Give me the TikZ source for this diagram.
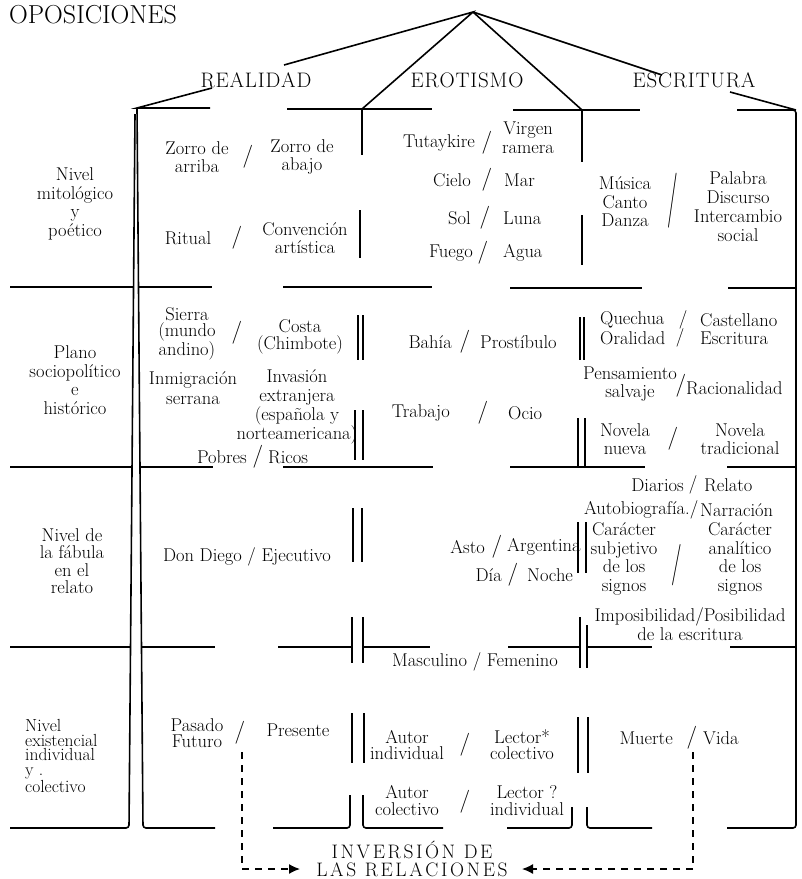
\documentclass[tikz,border=0pt]{standalone}
\usepackage{fontspec}
\usepackage{graphicx}
\usetikzlibrary{arrows.meta}
\newcommand\hsp{\kern0.8pt}
\newcommand\isp{\kern2.6pt}
\begin{document}
\begin{tikzpicture}[x=1pt,y=-1pt,
  ln/.style={line width=1.6pt},
  dl/.style={line width=1.3pt},
  t/.style={font=\fontsize{18.5}{18.5}\selectfont, align=center, inner sep=0pt},
  sl/.style={font=\fontsize{23}{23}\selectfont, inner sep=0pt},
  hd/.style={font=\fontsize{21}{21}\selectfont, inner sep=0pt},
  dsh/.style={line width=1.4pt, dash pattern=on 7pt off 6pt},
  tip/.style={-{Latex[length=11pt,width=10pt]}}
]
\useasboundingbox (0,0) rectangle (802,879);

% ---------- title and tree
\node[font=\fontsize{26}{26}\selectfont, anchor=west, inner sep=0pt] (title) at (9,15) {OPOSICIONES};
\node[hd] (real) at (256,80) {R\hsp E\hsp A\hsp L\hsp I\hsp D\hsp A\hsp D};
\node[hd] (erot) at (467,80) {E\hsp R\hsp O\hsp T\hsp I\hsp S\hsp M\hsp O};
\node[hd] (escr) at (694,80) {E\hsp S\hsp C\hsp R\hsp I\hsp T\hsp U\hsp R\hsp A};

\coordinate (apex) at (473,12);
\coordinate (a1) at (284,65);
\coordinate (j1) at (362,109);
\coordinate (j2) at (582,110);
\coordinate (a4) at (662,75);
\draw[ln] (a1) -- (apex) -- (j1);
\draw[ln] (apex) -- (j2);
\draw[ln] (apex) -- (a4);

% ---------- frame
\draw[ln] (212,88) -- (137,108) -- (210,108);
\draw[ln] (287,109) -- (432,109);
\draw[ln] (513,110) -- (640,110);
\draw[ln] (730,92) -- (796,110);
\draw[ln,rounded corners=3pt] (737,110) -- (796,110) -- (796,828) -- (727,828);
\draw[ln,rounded corners=3pt] (137,108) -- (143,828) -- (215,828);
\draw[ln,rounded corners=3pt] (135,114) -- (129,828) -- (10,828);

% row lines
\draw[ln] (10,287) -- (133.5,287);
\draw[ln] (138.5,287) -- (212,287);
\draw[ln] (283,287) -- (432,287);
\draw[ln] (510,288) -- (642,288);
\draw[ln] (728,288) -- (796,288);

\draw[ln] (10,467) -- (132,467);
\draw[ln] (140,467) -- (213,467);
\draw[ln] (283,467) -- (433,467);
\draw[ln] (510,467) -- (645,467);
\draw[ln] (727,467) -- (796,467);

\draw[ln] (10,647) -- (130.5,647);
\draw[ln] (141.5,647) -- (215,647);
\draw[ln] (278,647) -- (352,647);
\draw[ln] (363,647) -- (430,647);
\draw[ln] (508,647) -- (580,647);
\draw[ln] (587,647) -- (652,647);
\draw[ln] (730,647) -- (796,647);

\draw[ln,rounded corners=3pt] (350,795) -- (350,828) -- (273,828);
\draw[ln,rounded corners=3pt] (363,795) -- (363,828) -- (443,828);
\draw[ln,rounded corners=3pt] (572,807) -- (572,828) -- (507,828);
\draw[ln,rounded corners=3pt] (587,807) -- (587,828) -- (652,828);

% column boundary 1
\draw[ln] (j1) -- (362,155);
\draw[ln] (360,210) -- (360,258);
\draw[dl] (358,315) -- (358,360) (363,315) -- (363,360);
\draw[dl] (355,410) -- (355,460) (363,410) -- (363,460);
\draw[dl] (353,508) -- (353,562) (362,508) -- (362,562);
\draw[dl] (352,617) -- (352,663) (363,617) -- (363,663);
\draw[dl] (352,713) -- (352,763) (364,713) -- (364,763);

% column boundary 2
\draw[ln] (j2) -- (582,162);
\draw[ln] (582,215) -- (582,265);
\draw[dl] (580,317) -- (580,360) (584,317) -- (584,360);
\draw[dl] (578,418) -- (578,467) (585,418) -- (585,467);
\draw[dl] (578,522) -- (578,573) (586,522) -- (586,573);
\draw[dl] (580,617) -- (580,668) (587,625) -- (587,668);
\draw[dl] (578,717) -- (578,773) (588,717) -- (588,773);

% ---------- row 1
\node[t] (lab1) at (75,204) {Nivel\\mitológico\\y\\poético};
\node[t] (zA) at (197,157) {Zorro de\\arriba};
\node[sl] (s1) at (248,157) {/};
\node[t] (zB) at (302,157) {Zorro de\\abajo};
\node[t] (rit) at (188,238) {Ritual};
\node[sl] (s2) at (237,238) {/};
\node[t] (conv) at (305,238) {Convención\\artística};
\node[t,anchor=east] (tuta) at (475,143) {Tutaykire};
\node[sl] (s3) at (487,143) {/};
\node[t] (virg) at (528,138) {Virgen\\ramera};
\node[t,anchor=east] (cielo) at (471,180) {Cielo};
\node[sl] (s4) at (487,180) {/};
\node[t,anchor=west] (mar) at (504,180) {Mar};
\node[t,anchor=east] (sol) at (471,218) {Sol};
\node[sl] (s5) at (485,218) {/};
\node[t,anchor=west] (luna) at (503,218) {Luna};
\node[t,anchor=east] (fuego) at (473,253) {Fuego};
\node[sl] (s6) at (483,253) {/};
\node[t,anchor=west] (agua) at (503,253) {Agua};
\node[t] (mus) at (625,202) {Música\\Canto\\Danza};
\node[sl] (s7) at (673,201) {\scalebox{1}[2.4]{/}};
\node[t,font=\fontsize{18.5}{19}\selectfont] (pal) at (738,207) {Palabra\\Discurso\\Intercambio\\social};

% ---------- row 2
\node[t] (lab2) at (75,380) {Plano\\sociopolítico\\e\\histórico};
\node[t,font=\fontsize{18.5}{16}\selectfont] (sier) at (187,334) {Sierra\\(mundo\\andino)};
\node[sl] (s8) at (237,333) {/};
\node[t,font=\fontsize{18.5}{17}\selectfont] (costa) at (300,337) {Costa\\(Chimbote)};
\node[t,font=\fontsize{18.5}{20}\selectfont] (inm) at (193,388) {Inmigración\\serrana};
\node[t,font=\fontsize{18.5}{19}\selectfont] (inv) at (297,407) {Invasión\\extranjera\\(española y\\norteamericana)};
\node[t,anchor=east] (pob) at (247,457) {Pobres};
\node[sl] (s9) at (258,457) {/};
\node[t,anchor=west] (ric) at (268,457) {Ricos};
\node[t,anchor=east] (bah) at (452,342) {Bahía};
\node[sl] (s10) at (465,342) {/};
\node[t,anchor=west] (pros) at (480,342) {Prostíbulo};
\node[t,anchor=east] (trab) at (450,413) {Trabajo};
\node[sl] (s11) at (483,413) {/};
\node[t,anchor=west] (ocio) at (508,413) {Ocio};
\node[t,anchor=west] (quech) at (600,320) {Quechua};
\node[t] (s12) at (683,320) {/};
\node[t,anchor=west] (cast) at (700,320) {Castellano};
\node[t,anchor=west] (oral) at (600,338) {Oralidad};
\node[t] (s13) at (680,338) {/};
\node[t,anchor=west] (escr2) at (700,338) {Escritura};
\node[t] (pens) at (630,384) {Pensamiento\\salvaje};
\node[sl] (s14) at (681,386) {/};
\node[t,anchor=west] (rac) at (686,388) {Racionalidad};
\node[t] (nov1) at (625,439) {Novela\\nueva};
\node[sl] (s15) at (673,439) {/};
\node[t] (nov2) at (740,439) {Novela\\tradicional};

% ---------- row 3
\node[t,font=\fontsize{18.5}{17.5}\selectfont] (lab3) at (72,561) {Nivel de\\la fábula\\en el\\relato};
\node[t] (don) at (247,557) {Don Diego / Ejecutivo};
\node[t,anchor=east] (asto) at (485,547) {Asto};
\node[sl] (s16) at (497,547) {/};
\node[t,anchor=west] (arg) at (507,547) {Argentina};
\node[t,anchor=east] (dia) at (502,575) {Día};
\node[sl] (s17) at (513,575) {/};
\node[t,anchor=west] (noche) at (527,575) {Noche};
\node[t,anchor=east] (diar) at (684,485) {Diarios};
\node[t] (s18) at (693,485) {/};
\node[t,anchor=west] (rel) at (704,485) {Relato};
\node[t,anchor=east] (auto) at (690,510) {Autobiografía.};
\node[t] (s19) at (694,510) {/};
\node[t,anchor=west] (narr) at (700,510) {Narración};
\node[t] (car1) at (624,559) {Carácter\\subjetivo\\de los\\signos};
\node[sl] (s20) at (677,565) {\scalebox{1}[1.8]{/}};
\node[t] (car2) at (740,559) {Carácter\\analítico\\de los\\signos};
\node[t] (imp) at (690,624) {Imposibilidad/Posibilidad\\de la escritura};

% ---------- row 4
\node[t,align=left,anchor=west,font=\fontsize{17.5}{14.5}\selectfont] (lab4) at (25,756) {Nivel\\existencial\\individual\\y .\\colectivo};
\node[t,font=\fontsize{18.5}{15.5}\selectfont] (pas) at (197,733) {Pasado\\Futuro};
\node[sl] (s21) at (240,733) {/};
\node[t] (pres) at (298,730) {Presente};
\node[t] (masc) at (475,662) {Masculino / Femenino};
\node[t,font=\fontsize{18.5}{16}\selectfont] (aut1) at (407,745) {Autor\\individual};
\node[sl] (s22) at (465,745) {/};
\node[t,font=\fontsize{18.5}{16}\selectfont] (lec1) at (522,745) {Lector*\\colectivo};
\node[t,font=\fontsize{18.5}{17}\selectfont] (aut2) at (407,801) {Autor\\colectivo};
\node[sl] (s23) at (465,802) {/};
\node[t,font=\fontsize{18.5}{17}\selectfont] (lec2) at (527,801) {Lector ?\\individual};
\node[t,anchor=east] (muer) at (673,738) {Muerte};
\node[sl] (s24) at (692,738) {/};
\node[t,anchor=west] (vida) at (703,738) {Vida};

\node[font=\fontsize{19.5}{17.5}\selectfont, align=center, inner sep=0pt] (inv2) at (412,859)
  {I\isp N\isp V\isp E\isp R\isp S\isp I\isp Ó\isp N\isp\ D\isp E\\L\isp A\isp S\isp\ R\isp E\isp L\isp A\isp C\isp I\isp O\isp N\isp E\isp S};

\coordinate (d1) at (242,752);
\coordinate (d1b) at (300,869);
\coordinate (d2) at (693,752);
\coordinate (d2b) at (522,869);
\draw[dsh,tip] (d1) |- (d1b);
\draw[dsh,tip] (d2) |- (d2b);
\end{tikzpicture}
\end{document}
